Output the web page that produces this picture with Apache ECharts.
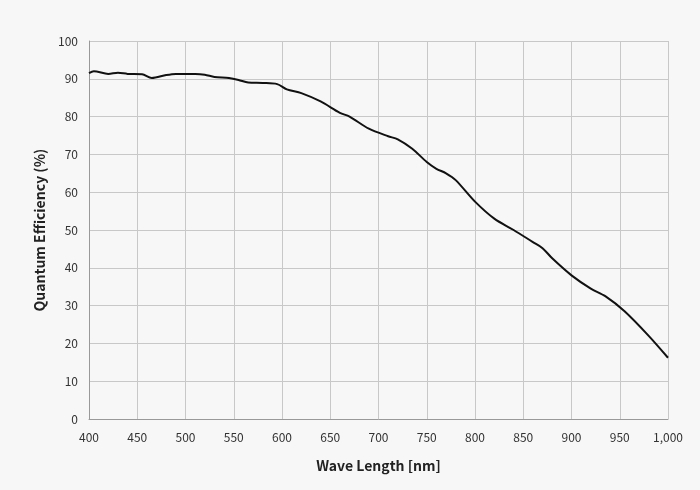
<!DOCTYPE html>
<html><head><meta charset="utf-8">
<script src="https://cdn.jsdelivr.net/npm/echarts@6/dist/echarts.min.js"></script>
<style>html,body{margin:0;background:#f7f7f7}#c{width:700px;height:490px}</style>
</head><body><div id="c"></div>
<script>
// wavelength (nm) and quantum efficiency (%)
var waveLength = [400,405,420,430,440,455,465,480,490,510,520,530,545,555,565,580,595,605,620,640,660,670,690,710,720,735,750,760,770,780,800,820,840,860,870,880,900,920,935,955,980,1000]
var efficiency = [91.5,92,91.3,91.6,91.3,91.2,90.2,91,91.3,91.3,91.1,90.5,90.2,89.7,89,88.9,88.6,87.2,86.2,84,81,80,76.8,74.8,74,71.5,68,66.2,65,63.2,57.5,53,50,46.8,45.2,42.5,38,34.5,32.5,28.5,22,16.2]

var points = []
for (var i = 0; i < waveLength.length; i++) {
    points.push([waveLength[i], efficiency[i]])
}

var chart = echarts.init(document.getElementById('c'))
var font = '"Noto Sans CJK SC", "Noto Sans", sans-serif'
chart.setOption({
    backgroundColor: '#f7f7f7',
    animation: false,
    grid: {left: 89, right: 32, top: 41, bottom: 71},
    xAxis: {
        type: 'value', min: 400, max: 1000, interval: 50,
        name: 'Wave Length [nm]', nameLocation: 'middle', nameGap: 40,
        nameTextStyle: {fontFamily: font, fontWeight: 'bold', fontSize: 14, color: '#222'},
        axisLine: {lineStyle: {color: '#999'}},
        axisTick: {show: false},
        axisLabel: {fontFamily: font, fontSize: 12, color: '#333', margin: 12},
        splitLine: {lineStyle: {color: '#c8c8c8'}}
    },
    yAxis: {
        type: 'value', min: 0, max: 100, interval: 10,
        name: 'Quantum Efficiency (%)', nameLocation: 'middle', nameGap: 38,
        nameTextStyle: {fontFamily: font, fontWeight: 'bold', fontSize: 14, color: '#222'},
        axisLine: {show: true, lineStyle: {color: '#999'}},
        axisTick: {show: false},
        axisLabel: {fontFamily: font, fontSize: 12, color: '#333', margin: 11},
        splitLine: {lineStyle: {color: '#c8c8c8'}}
    },
    series: [{
        type: 'line', data: points, smooth: 0.3, showSymbol: false,
        lineStyle: {color: '#111', width: 2}
    }]
})
</script></body></html>
